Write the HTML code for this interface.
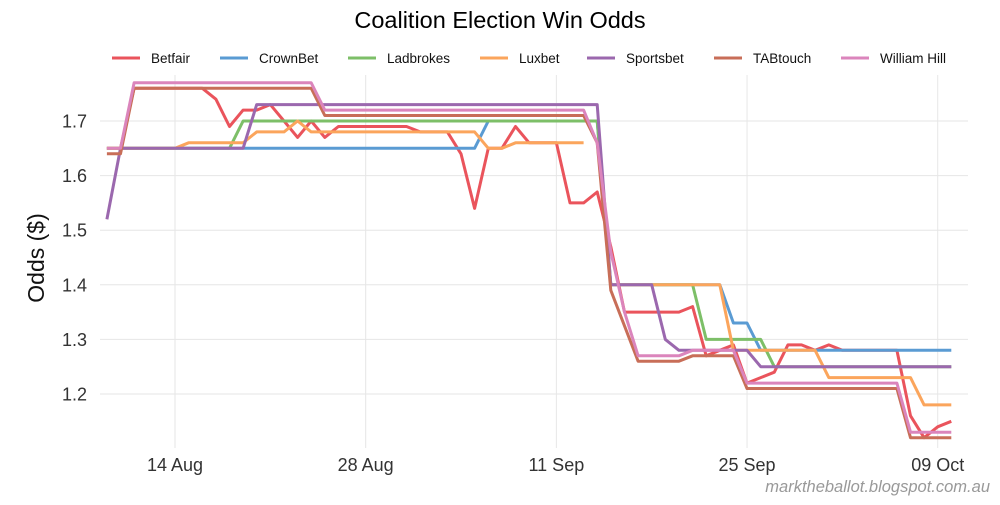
<!DOCTYPE html>
<html><head><meta charset="utf-8"><style>
body{margin:0;background:#fff;font-family:"Liberation Sans",sans-serif}
#wrap{position:relative;width:1000px;height:500px}
</style></head><body>
<div id="wrap">
<svg id="svg" width="1000" height="500" xmlns="http://www.w3.org/2000/svg"></svg>
</div>
<script>
const tickDays=[0,14,28,42,56];
const tickLabels=["14 Aug","28 Aug","11 Sep","25 Sep","09 Oct"];
const yTicks=[1.2,1.3,1.4,1.5,1.6,1.7];
const seriesNames=["Betfair","CrownBet","Ladbrokes","Luxbet","Sportsbet","TABtouch","William Hill"];
const betfairDays=[-5,-4,-3,2,3,4,5,6,7,8,9,10,11,12,16,17,18,20,21,22,23,24,25,26,28,29,30,31,32,33,37,38,39,40,41,42,43,44,45,46,47,48,49,53,54,55,56,57];
const betfairVals=[1.65,1.65,1.76,1.76,1.74,1.69,1.72,1.72,1.73,1.70,1.67,1.70,1.67,1.69,1.69,1.69,1.68,1.68,1.64,1.54,1.65,1.65,1.69,1.66,1.66,1.55,1.55,1.57,1.47,1.35,1.35,1.36,1.27,1.28,1.29,1.22,1.23,1.24,1.29,1.29,1.28,1.29,1.28,1.28,1.16,1.12,1.14,1.15];
const crownDays=[-5,22,23,31,32,40,41,42,43,57];
const crownVals=[1.65,1.65,1.70,1.70,1.40,1.40,1.33,1.33,1.28,1.28];
const ladDays=[-5,4,5,31,32,38,39,43,44,57];
const ladVals=[1.65,1.65,1.70,1.70,1.40,1.40,1.30,1.30,1.25,1.25];
const luxDays=[-5,0,1,5,6,8,9,10,22,23,24,25,30,null,32,40,41,47,48,54,55,57];
const luxVals=[1.65,1.65,1.66,1.66,1.68,1.68,1.70,1.68,1.68,1.65,1.65,1.66,1.66,null,1.40,1.40,1.28,1.28,1.23,1.23,1.18,1.18];
const sportsDays=[-5,-4,5,6,31,32,35,36,37,42,43,57];
const sportsVals=[1.52,1.65,1.65,1.73,1.73,1.40,1.40,1.30,1.28,1.28,1.25,1.25];
const tabDays=[-5,-4,-3,10,11,30,31,32,34,37,38,41,42,53,54,57];
const tabVals=[1.64,1.64,1.76,1.76,1.71,1.71,1.66,1.39,1.26,1.26,1.27,1.27,1.21,1.21,1.12,1.12];
const whDays=[-5,-4,-3,10,11,30,31,32,33,34,37,38,41,42,53,54,57];
const whVals=[1.65,1.65,1.77,1.77,1.72,1.72,1.66,1.46,1.35,1.27,1.27,1.28,1.28,1.22,1.22,1.13,1.13];
const colors=["#ea545c","#5a9bd3","#7dbf68","#fba55c","#9b68ae","#c86e58","#db85bc"];

const X0=100,X1=968,Y0=75,Y1=448;
const xs=d=>175+d*13.62;
const ys=v=>121+(1.7-v)*546;
const svg=document.getElementById('svg');
const NS="http://www.w3.org/2000/svg";
function mk(tag,attrs){const e=document.createElementNS(NS,tag);for(const k in attrs)e.setAttribute(k,attrs[k]);svg.appendChild(e);return e;}

yTicks.forEach(v=>{
 const l=mk('line',{x1:X0,x2:X1,y1:ys(v),y2:ys(v),stroke:'#e6e6e6','stroke-width':1});
 
 
 const t=mk('text',{x:87,y:ys(v)+6.5,'text-anchor':'end','font-size':18,fill:'#333'});
 t.textContent=v.toFixed(1);
 
 
});
tickDays.forEach((d,i)=>{
 const l=mk('line',{x1:xs(d),x2:xs(d),y1:Y0,y2:Y1,stroke:'#e6e6e6','stroke-width':1});
 
 
 const t=mk('text',{x:xs(d),y:471,'text-anchor':'middle','font-size':18,fill:'#333'});
 t.textContent=tickLabels[i];
 
 
});
const allDays=[betfairDays,crownDays,ladDays,luxDays,sportsDays,tabDays,whDays];
const allVals=[betfairVals,crownVals,ladVals,luxVals,sportsVals,tabVals,whVals];
allDays.forEach((days,i)=>{
 let d='',pen=false;
 days.forEach((dd,j)=>{
  const v=allVals[i][j];
  if(dd===null||v===null){pen=false;return;}
  d+=(pen?'L':'M')+xs(dd).toFixed(1)+','+ys(v).toFixed(1);pen=true;
 });
 const p=mk('path',{d:d,fill:'none',stroke:colors[i],'stroke-width':3,'stroke-linejoin':'round'});
 
 
});
const legX=[112,220,348,480,587,714,841];
seriesNames.forEach((n,i)=>{
 const l=mk('line',{x1:legX[i],x2:legX[i]+28,y1:58,y2:58,stroke:colors[i],'stroke-width':3});
 
 
 const t=mk('text',{x:legX[i]+39,y:63,'font-size':13.5,fill:'#111'});
 t.textContent=n;
 
 
});
const title=mk('text',{x:500,y:28,'text-anchor':'middle','font-size':23.5,fill:'#000'});
title.textContent='Coalition Election Win Odds';


const yl=mk('text',{x:0,y:0,'text-anchor':'middle','font-size':23,fill:'#111',transform:'translate(44,258) rotate(-90)'});
yl.textContent='Odds ($)';


const ft=mk('text',{x:990,y:492,'text-anchor':'end','font-size':16.5,'font-style':'italic',fill:'#999'});
ft.textContent='marktheballot.blogspot.com.au';


</script>
</body></html>
